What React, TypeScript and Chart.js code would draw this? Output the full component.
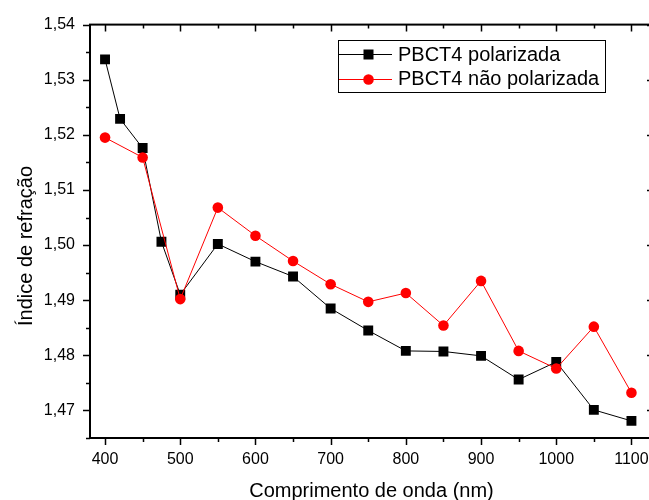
import React, { useEffect, useRef } from "react";
import { Chart, registerables } from "chart.js";

Chart.register(...registerables);

const polX = [400, 420, 450, 475, 500, 550, 600, 650, 700, 750, 800, 850, 900, 950, 1000, 1050, 1100];
const polY = [1.5337, 1.5229, 1.5176, 1.5006, 1.491, 1.5002, 1.497, 1.4943, 1.4885, 1.4845, 1.4808, 1.4807, 1.4799, 1.4756, 1.4788, 1.4701, 1.4681];
const naoX = [400, 450, 500, 550, 600, 650, 700, 750, 800, 850, 900, 950, 1000, 1050, 1100];
const naoY = [1.5195, 1.5159, 1.4902, 1.5068, 1.5017, 1.4971, 1.4929, 1.4897, 1.4913, 1.4854, 1.4935, 1.4808, 1.4776, 1.4852, 1.4732];

const xMajorTicks = [400, 500, 600, 700, 800, 900, 1000, 1100];
const xMinorTicks = [450, 550, 650, 750, 850, 950, 1050];
const yMajorTicks = [1.47, 1.48, 1.49, 1.5, 1.51, 1.52, 1.53, 1.54];
const yMinorTicks = [1.465, 1.475, 1.485, 1.495, 1.505, 1.515, 1.525, 1.535];

const seriesNames = ["PBCT4 polarizada", "PBCT4 não polarizada"];
const xTitle = "Comprimento de onda (nm)";
const yTitle = "Índice de refração";

const FONT = '"Liberation Sans", Arial, sans-serif';

const framePlugin = {
  id: "frame",
  afterDraw(chart: any) {
    const { ctx, chartArea, scales } = chart;
    const { left, top, right, bottom } = chartArea;
    const xs = scales.x;
    const ys = scales.y;
    ctx.save();
    ctx.strokeStyle = "#000";
    ctx.lineWidth = 2;
    ctx.strokeRect(left, top, right - left, bottom - top);
    ctx.lineWidth = 1.5;
    ctx.beginPath();
    const xt = (v: number, len: number) => {
      const p = Math.round(xs.getPixelForValue(v)) + 0.5;
      ctx.moveTo(p, bottom);
      ctx.lineTo(p, bottom + len);
      ctx.moveTo(p, top);
      ctx.lineTo(p, top + len);
    };
    const yt = (v: number, len: number) => {
      const p = Math.round(ys.getPixelForValue(v)) + 0.5;
      ctx.moveTo(left, p);
      ctx.lineTo(left - len, p);
      ctx.moveTo(right, p);
      ctx.lineTo(right - len, p);
    };
    xMajorTicks.forEach((v) => xt(v, 7));
    xMinorTicks.forEach((v) => xt(v, 4));
    yMajorTicks.forEach((v) => yt(v, 7));
    yMinorTicks.forEach((v) => yt(v, 4));
    ctx.stroke();

    // axis titles
    ctx.fillStyle = "#000";
    ctx.font = `20px ${FONT}`;
    ctx.textAlign = "center";
    ctx.textBaseline = "alphabetic";
    ctx.fillText(xTitle, 371.5, 497);
    ctx.save();
    ctx.translate(32, 246);
    ctx.rotate(-Math.PI / 2);
    ctx.fillText(yTitle, 0, 0);
    ctx.restore();

    // legend
    ctx.lineWidth = 1;
    ctx.strokeStyle = "#000";
    ctx.strokeRect(338.5, 40.5, 267, 52);
    const rows = [
      { y: 54.5, color: "#000", shape: "rect", text: seriesNames[0], base: 61 },
      { y: 79.5, color: "#ff0000", shape: "circle", text: seriesNames[1], base: 85 },
    ];
    rows.forEach((r) => {
      ctx.strokeStyle = r.color;
      ctx.lineWidth = 1;
      ctx.beginPath();
      ctx.moveTo(339, r.y);
      ctx.lineTo(392, r.y);
      ctx.stroke();
      ctx.fillStyle = r.color;
      if (r.shape === "rect") {
        ctx.fillRect(363.5, r.y - 5, 10, 10);
      } else {
        ctx.beginPath();
        ctx.arc(368.5, r.y, 5.3, 0, Math.PI * 2);
        ctx.fill();
      }
      ctx.fillStyle = "#000";
      ctx.textAlign = "left";
      ctx.font = `20px ${FONT}`;
      ctx.fillText(r.text, 398, r.base);
    });
    ctx.restore();
  },
};

export default function App() {
  const ref = useRef<HTMLCanvasElement | null>(null);
  useEffect(() => {
    if (!ref.current) return;
    const chart = new Chart(ref.current, {
      type: "line",
      data: {
        datasets: [
          {
            label: seriesNames[1],
            data: naoX.map((x, i) => ({ x, y: naoY[i] })),
            borderColor: "#ff0000",
            backgroundColor: "#ff0000",
            borderWidth: 1,
            pointStyle: "circle",
            pointRadius: 5.3,
            pointBorderWidth: 0,
            order: 0,
          },
          {
            label: seriesNames[0],
            data: polX.map((x, i) => ({ x, y: polY[i] })),
            borderColor: "#000",
            backgroundColor: "#000",
            borderWidth: 1,
            pointStyle: "rect",
            pointRadius: 7,
            pointBorderWidth: 0,
            order: 1,
          },
        ],
      },
      options: {
        responsive: false,
        animation: false,
        layout: { padding: { left: 0, top: 23, right: 46, bottom: 0 } },
        plugins: { legend: { display: false }, tooltip: { enabled: false } },
        scales: {
          x: {
            type: "linear",
            min: 380,
            max: 1130,
            grid: { display: false, drawTicks: false },
            border: { display: false },
            afterBuildTicks: (s: any) => {
              s.ticks = xMajorTicks.map((v) => ({ value: v }));
            },
            afterFit: (s: any) => {
              s.height = 62;
            },
            ticks: {
              padding: 12,
              maxRotation: 0,
              autoSkip: false,
              color: "#000",
              font: { family: FONT, size: 16 },
              callback: (v: any) => String(v),
            },
          },
          y: {
            type: "linear",
            min: 1.465,
            max: 1.54,
            grid: { display: false, drawTicks: false },
            border: { display: false },
            afterBuildTicks: (s: any) => {
              s.ticks = yMajorTicks.map((v) => ({ value: v }));
            },
            afterFit: (s: any) => {
              s.width = 90;
            },
            ticks: {
              padding: 15,
              autoSkip: false,
              color: "#000",
              font: { family: FONT, size: 16 },
              callback: (v: any) => Number(v).toFixed(2).replace(".", ","),
            },
          },
        },
      },
      plugins: [framePlugin],
    });
    return () => chart.destroy();
  }, []);
  return (
    <div style={{ position: "fixed", left: 0, top: 0, width: 649, height: 500, overflow: "hidden", background: "#fff" }}>
      <canvas ref={ref} width={700} height={500} style={{ display: "block" }} />
    </div>
  );
}
